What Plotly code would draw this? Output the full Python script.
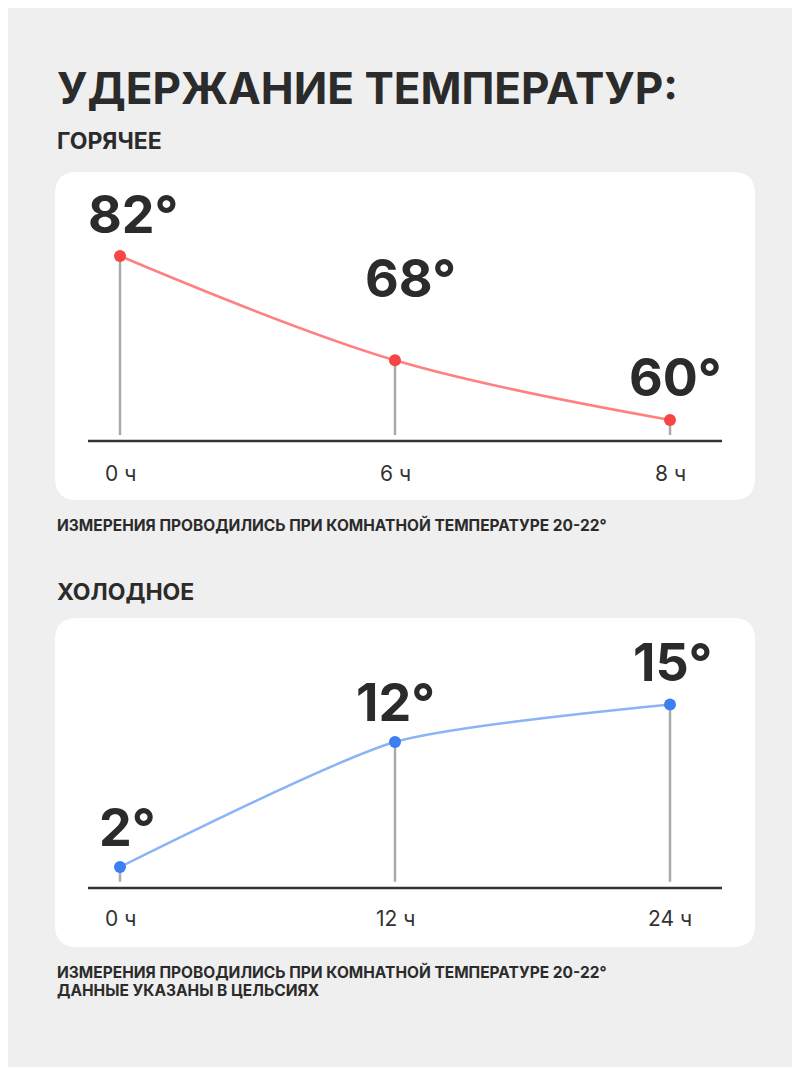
import plotly.graph_objects as go

W, H = 800, 1067
OFF = 8  # page body margin
hot_labels = ["0 ч", "6 ч", "8 ч"]
hot_values = [82, 68, 60]
cold_labels = ["0 ч", "12 ч", "24 ч"]
cold_values = [2, 12, 15]

def py(p):  # page pixel y -> paper
    return 1 - (p - OFF) / H

def px(p):
    return (p - OFF) / W

FONT = "Inter"
fig = go.Figure()

k = 275
r0 = -(120 - OFF) / k
xr = [r0, r0 + W / k]

hs = 7.45
hot_yr = [82 - (500 - 256) / hs, 82 + (256 - 172) / hs]
hot_axis = 82 - (441 - 256) / hs
cs = 12.5
cold_yr = [2 - (947 - 867) / cs, 2 + (867 - 618) / cs]
cold_axis = 2 - (888 - 867) / cs

shapes = []
def card(x0, y0, x1, y1, r=22):
    X0, X1 = px(x0), px(x1)
    Y0, Y1 = py(y0), py(y1)
    rx, ry = r / W, r / H
    path = (f"M{X0+rx},{Y0} L{X1-rx},{Y0} Q{X1},{Y0} {X1},{Y0-ry} L{X1},{Y1+ry} "
            f"Q{X1},{Y1} {X1-rx},{Y1} L{X0+rx},{Y1} Q{X0},{Y1} {X0},{Y1+ry} "
            f"L{X0},{Y0-ry} Q{X0},{Y0} {X0+rx},{Y0} Z")
    shapes.append(dict(type="path", path=path, xref="paper", yref="paper",
                       fillcolor="white", line=dict(width=0), layer="below"))
card(55, 172, 755, 500)
card(55, 618, 755, 947)

for yref, axv, vals, stem_bot in [("y", hot_axis, hot_values, hot_axis + 0.8),
                                  ("y2", cold_axis, cold_values, cold_axis + 0.5)]:
    shapes.append(dict(type="line", xref="paper", yref=yref, x0=px(88), x1=px(722),
                       y0=axv, y1=axv, line=dict(color="#333", width=2.5)))
    xa = "x" if yref == "y" else "x2"
    for i, v in enumerate(vals):
        shapes.append(dict(type="line", xref=xa, yref=yref, x0=i, x1=i, y0=stem_bot, y1=v,
                           line=dict(color="#aaaaaa", width=2.5), layer="below"))

xs = list(range(3))
fig.add_trace(go.Scatter(x=xs, y=hot_values, mode="lines", line=dict(shape="spline", color="#ff8080", width=2.5),
                         xaxis="x", yaxis="y", hoverinfo="skip"))
fig.add_trace(go.Scatter(x=xs, y=hot_values, mode="markers", marker=dict(color="#f74545", size=12),
                         xaxis="x", yaxis="y"))
fig.add_trace(go.Scatter(x=xs, y=cold_values, mode="lines", line=dict(shape="spline", smoothing=0.6, color="#8ab4f5", width=2.5),
                         xaxis="x2", yaxis="y2", hoverinfo="skip"))
fig.add_trace(go.Scatter(x=xs, y=cold_values, mode="markers", marker=dict(color="#3a80f0", size=12),
                         xaxis="x2", yaxis="y2"))

ann = []
def t(x, y, s, size, bold=True, anchor="left", color="#2b2b2b"):
    ann.append(dict(x=px(x), y=py(y), xref="paper", yref="paper", text=f"<b>{s}</b>" if bold else s,
                    showarrow=False, xanchor=anchor, yanchor="middle",
                    font=dict(family=FONT, size=size, color=color)))

t(55, 88, "УДЕРЖАНИЕ ТЕМПЕРАТУР:", 44)
t(55, 141, "ГОРЯЧЕЕ", 23)
t(55, 592, "ХОЛОДНОЕ", 23)
t(55, 525, "ИЗМЕРЕНИЯ ПРОВОДИЛИСЬ ПРИ КОМНАТНОЙ ТЕМПЕРАТУРЕ 20-22°", 15.5)
t(55, 972, "ИЗМЕРЕНИЯ ПРОВОДИЛИСЬ ПРИ КОМНАТНОЙ ТЕМПЕРАТУРЕ 20-22°", 15.5)
t(55, 990, "ДАННЫЕ УКАЗАНЫ В ЦЕЛЬСИЯХ", 15.5)

hot_lbl_off = [(13, -42), (15, -82), (5, -42)]
for i, (lab, v) in enumerate(zip(hot_labels, hot_values)):
    ann.append(dict(x=i, y=hot_axis, xref="x", yref="y", text=lab, showarrow=False, yshift=-32,
                    font=dict(family=FONT, size=21, color="#333")))
    dx, dy = hot_lbl_off[i]
    ann.append(dict(x=i, y=v, xref="x", yref="y", text=f"<b>{v}°</b>", showarrow=False,
                    xshift=dx, yshift=-dy, font=dict(family=FONT, size=52, color="#2b2b2b")))
cold_lbl_off = [(7, -40), (0, -40), (2, -42)]
for i, (lab, v) in enumerate(zip(cold_labels, cold_values)):
    ann.append(dict(x=i, y=cold_axis, xref="x2", yref="y2", text=lab, showarrow=False, yshift=-30,
                    font=dict(family=FONT, size=21, color="#333")))
    dx, dy = cold_lbl_off[i]
    ann.append(dict(x=i, y=v, xref="x2", yref="y2", text=f"<b>{v}°</b>", showarrow=False,
                    xshift=dx, yshift=-dy, font=dict(family=FONT, size=52, color="#2b2b2b")))

ax = dict(visible=False, fixedrange=True)
fig.update_layout(
    width=W, height=H, margin=dict(l=0, r=0, t=0, b=0),
    paper_bgcolor="#efefef", plot_bgcolor="rgba(0,0,0,0)", showlegend=False,
    xaxis=dict(ax, range=xr, domain=[0, 1]),
    yaxis=dict(ax, range=hot_yr, domain=[py(500), py(172)]),
    xaxis2=dict(ax, range=xr, domain=[0, 1], anchor="y2"),
    yaxis2=dict(ax, range=cold_yr, domain=[py(947), py(618)], anchor="x2"),
    shapes=shapes, annotations=ann,
)
fig.write_html("out.html")
